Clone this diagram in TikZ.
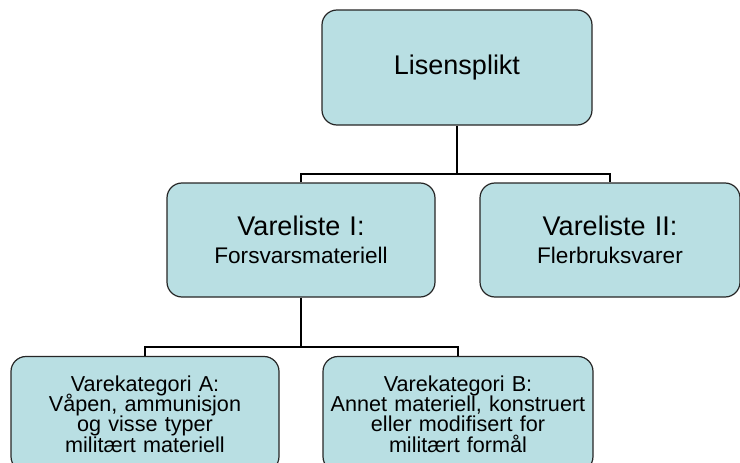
\documentclass[tikz,border=0pt]{standalone}
\usepackage{fontspec}
\setmainfont{Liberation Sans}
\definecolor{boxfill}{HTML}{B9DFE3}
\newcommand{\leaffont}{\fontsize{21.6}{20.4}\selectfont\lineskiplimit=-20pt\relax}
\tikzset{
  unit/.style={draw=black!85,fill=boxfill,line width=1.2pt,rounded corners=15pt,
    align=center,inner sep=0pt,minimum height=115pt},
  head/.style={unit,font=\fontsize{27}{27}\selectfont},
  leaf/.style={unit,font=\leaffont},
  link/.style={line width=2.2pt}
}
\newcommand{\subline}[1]{{\fontsize{22.6}{27}\selectfont #1}}
\begin{document}
\begin{tikzpicture}[x=1pt,y=-1pt]
\useasboundingbox (0,0) rectangle (740,463);
\clip (0,0) rectangle (740,463);

\node[head,text width=270pt] (lisens) at (457,67.5) {Lisensplikt};

\node[head,text width=268pt,minimum height=114pt] (liste1) at (301,240)
  {Vareliste I:\\[1pt]\subline{Forsvarsmateriell}};
\node[head,text width=260pt,minimum height=114pt] (liste2) at (610,240)
  {Vareliste II:\\[1pt]\subline{Flerbruksvarer}};

\node[leaf,text width=268pt] (katA) at (145,414)
  {Varekategori A:\\Våpen, ammunisjon\\og visse typer\\militært materiell};
\node[leaf,text width=270pt] (katB) at (458,414)
  {Varekategori B:\\Annet materiell, konstruert\\eller modifisert for\\militært formål};

\draw[link] (lisens.south) -- ++(0,48) coordinate (top joint);
\draw[link] (liste1.north) |- (top joint) -| (liste2.north);
\draw[link] (liste1.south) -- ++(0,49) coordinate (low joint);
\draw[link] (katA.north) |- (low joint) -| (katB.north);

\end{tikzpicture}
\end{document}
